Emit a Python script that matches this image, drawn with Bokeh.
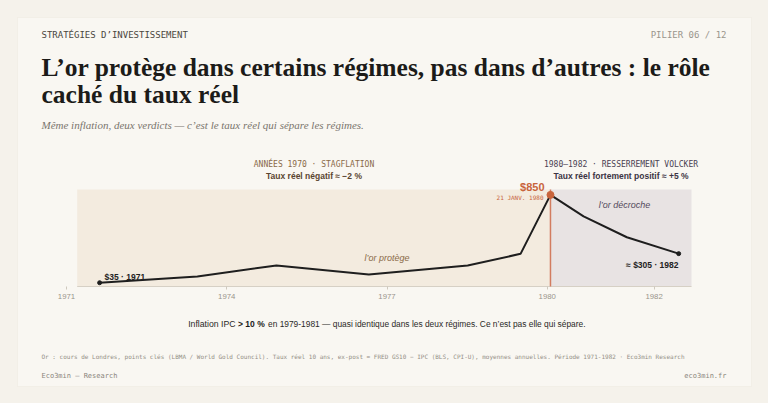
from bokeh.plotting import figure
from bokeh.models import Range1d, FixedTicker, Label, BoxAnnotation, GlobalInlineStyleSheet
from bokeh.embed import file_html
from bokeh.resources import INLINE

# gold, London fix, key points (year as fraction)
years = [1971.62, 1973.45, 1974.93, 1976.66, 1978.51, 1979.50, 1980.06, 1980.68, 1981.49, 1982.46]
prices = [35, 93, 195, 111, 195, 303, 850, 651, 457, 305]

# regimes
regime_start = [1971.2, 1980.06]
regime_end = [1980.06, 1982.7]
regime_fill = ["#f3ebdf", "#e8e3e3"]

peak_year = 1980.06
peak_price = 850
tick_years = [1971, 1974, 1977, 1980, 1982]
y_top = 900

PAGE = "#f5f2eb"
CARD = "#f9f7f2"
SANS = "'Liberation Sans', Arial, sans-serif"
MONO = "'DejaVu Sans Mono', monospace"
SERIF = "'Liberation Serif', serif"
RED = "#c8643c"

# page layout (pixels): canvas at 0..752 x 0..387, chart box 66..691 x 189..286
W, H = 752, 387
CX0, CY0 = 0, 0
PX_L, PX_R, PY_T, PY_B = 66, 691, 189, 286
x_scale = (PX_R - PX_L) / (regime_end[-1] - tick_years[0])
y_scale = (PY_B - PY_T) / y_top
x_lo = tick_years[0] - (PX_L - CX0) / x_scale
x_hi = regime_end[-1] + (CX0 + W - PX_R) / x_scale
y_lo = -(CY0 + H - PY_B) / y_scale
y_hi = y_top + (PY_T - CY0) / y_scale

p = figure(width=W, height=H, x_range=Range1d(x_lo, x_hi), y_range=Range1d(y_lo, y_hi),
           output_backend="svg", toolbar_location=None, min_border=0,
           background_fill_color=PAGE, border_fill_color=PAGE, outline_line_color=None,
           stylesheets=[GlobalInlineStyleSheet(css="body{background:%s;}" % PAGE)])
p.xgrid.visible = False
p.ygrid.visible = False
p.yaxis.visible = False

# card
p.add_layout(BoxAnnotation(left=17 - CX0, right=751 - CX0, top=CY0 + H - 17, bottom=CY0 + H - 386,
                           left_units="screen", right_units="screen", top_units="screen", bottom_units="screen",
                           fill_color=CARD, fill_alpha=1, line_color="#e7e2d8", line_width=1, level="underlay"))

ax = p.xaxis[0]
ax.fixed_location = 0
ax.ticker = FixedTicker(ticks=tick_years)
ax.axis_line_color = None
ax.major_tick_line_color = "#cfc9be"
ax.major_tick_in = 0
ax.major_tick_out = 3
ax.minor_tick_line_color = None
ax.major_label_standoff = 4
ax.major_label_text_font = SANS
ax.major_label_text_font_size = "7.8px"
ax.major_label_text_color = "#9a958c"

# regime shading
p.quad(left=regime_start, right=regime_end, bottom=0, top=y_top, fill_color=regime_fill, line_color=None)
# axis line over the shaded span only
p.segment(x0=regime_start[0], y0=0, x1=regime_end[-1], y1=0, line_color="#d6d0c5", line_width=1)

# peak marker line
p.segment(x0=peak_year, y0=0, x1=peak_year, y1=y_top, line_color="#d27c60", line_width=1.5)

p.line(years, prices, line_color="#1e1e1e", line_width=2)
p.scatter([years[0], years[-1]], [prices[0], prices[-1]], size=4, color="#1e1e1e")
p.scatter([peak_year], [peak_price], size=7, color=RED)


# positions given in page pixels
def lab(px, py, text, font=SANS, size="9px", color="#222222", style="normal", align="left"):
    p.add_layout(Label(x=px - CX0, y=CY0 + H - py, x_units="screen", y_units="screen", text=text,
                       text_font=font, text_font_size=size, text_color=color, text_font_style=style,
                       text_align=align, text_baseline="middle"))


lab(41, 34.5, "STRATÉGIES D’INVESTISSEMENT", MONO, "9px", "#4a4640")
lab(726, 34.5, "PILIER 06 / 12", MONO, "9px", "#9a958c", align="right")
lab(41, 66.5, "L’or protège dans certains régimes, pas dans d’autres : le rôle", SERIF, "25.5px", "#1c1b19", "bold")
lab(41, 93.5, "caché du taux réel", SERIF, "25.5px", "#1c1b19", "bold")
lab(41, 124, "Même inflation, deux verdicts — c’est le taux réel qui sépare les régimes.", SERIF, "11px", "#7a756d", "italic")

lab(313.5, 164, "ANNÉES 1970 · STAGFLATION", MONO, "8px", "#8a6a48", align="center")
lab(313.5, 175.5, "Taux réel négatif ≈ −2 %", SANS, "8.5px", "#5a4530", "bold", "center")
lab(620.5, 164, "1980–1982 · RESSERREMENT VOLCKER", MONO, "8px", "#4b4252", align="center")
lab(620.5, 175.5, "Taux réel fortement positif ≈ +5 %", SANS, "8.5px", "#3c3444", "bold", "center")

lab(544, 186, "$850", SANS, "11px", RED, "bold", "right")
lab(543, 196.5, "21 JANV. 1980", MONO, "6px", RED, align="right")
lab(386.5, 257, "l’or protège", SANS, "9px", "#8a6a48", "italic", "center")
lab(624, 204.5, "l’or décroche", SANS, "9px", "#544a5c", "italic", "center")
lab(104, 276.5, "$35 · 1971", SANS, "8.5px", "#222222", "bold")
lab(678, 264.5, "≈ $305 · 1982", SANS, "8.5px", "#222222", "bold", "right")

lab(235, 323.5, "Inflation IPC", SANS, "8.7px", "#2a2926", align="right")
lab(237.5, 323.5, "> 10 %", SANS, "8.5px", "#1c1b19", "bold")
lab(267.5, 323.5, "en 1979-1981 — quasi identique dans les deux régimes. Ce n’est pas elle qui sépare.", SANS, "8.4px", "#2a2926")

lab(41, 356, "Or : cours de Londres, points clés (LBMA / World Gold Council). Taux réel 10 ans, ex-post = FRED GS10 − IPC (BLS, CPI-U), moyennes annuelles. Période 1971-1982 · Eco3min Research", MONO, "6px", "#948f86")
lab(41, 375, "Eco3min — Research", MONO, "7px", "#8a857c")
lab(726, 375, "eco3min.fr", MONO, "7px", "#8a857c", align="right")

open("out.html", "w").write(file_html(p, INLINE))
